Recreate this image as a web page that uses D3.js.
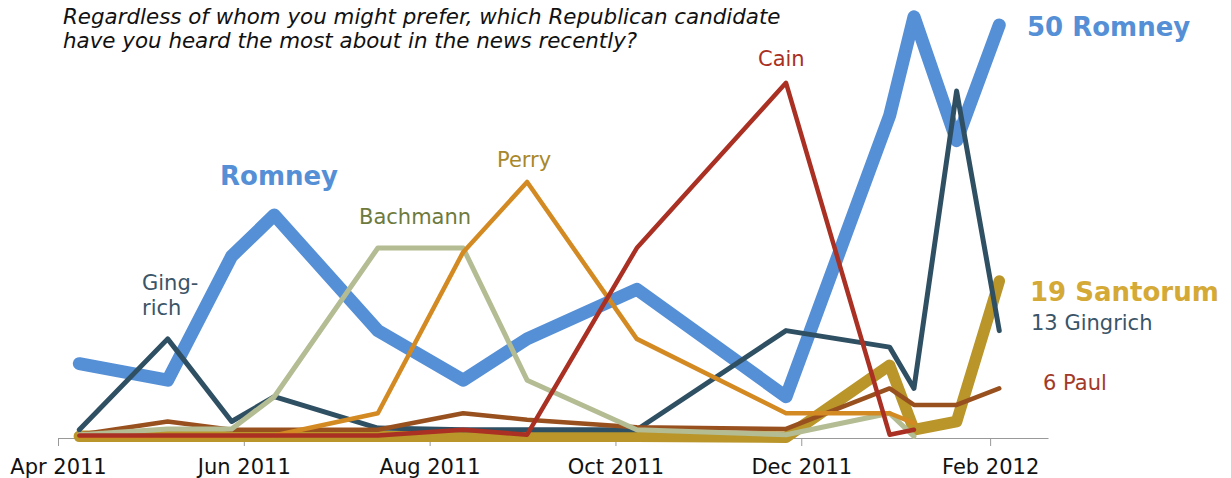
<!DOCTYPE html>
<html>
<head>
<meta charset="utf-8">
<script src="https://cdnjs.cloudflare.com/ajax/libs/d3/7.8.5/d3.min.js"></script>
<style>
body { margin: 0; background: #fff; }
svg text { font-family: "DejaVu Sans", Verdana, sans-serif; }
</style>
</head>
<body>
<div id="chart"></div>
<script>
// survey dates (Pew news interest index) and % naming each candidate
var surveyDates = ["2011-04-08", "2011-05-07", "2011-05-28", "2011-06-11", "2011-07-15", "2011-08-12",
  "2011-09-02", "2011-10-08", "2011-11-26", "2011-12-30", "2012-01-07", "2012-01-21", "2012-02-04"];

var romney    = [9, 7, 22, 27, 13, 7, 12, 18, 5, 39, 51, 36, 50];
var gingrich  = [1, 12, 2, 5, 1.2, 1, 1, 1, 13, 11, 6, 42, 13];
var cain      = [0.3, 0.3, 0.3, 0.3, 0.3, 1, 0.4, 23, 43, 0.4, 1, null, null];
var perry     = [0.2, 0.2, 0.2, 0.3, 3, 22.5, 31, 12, 3, 3, 1.8, null, null];
var bachmann  = [0.4, 1.1, 1.1, 5, 23, 23, 7, 1, 0.4, 3, 0.2, null, null];
var paul      = [0.4, 2, 1, 1, 1, 3, 2.2, 1.3, 1.1, 6, 4, 4, 6];
var santorum  = [0.2, 0.2, 0.2, 0.2, 0.2, 0.2, 0.2, 0.2, 0.1, 8.8, 1, 2, 19];

var tickDates = ["2011-04-01", "2011-06-01", "2011-08-01", "2011-10-01", "2011-12-01", "2012-02-01"];

var width = 1231, height = 478;
var parse = d3.timeParse("%Y-%m-%d");

var svg = d3.select("#chart").append("svg")
  .attr("width", width)
  .attr("height", height);

var x = d3.scaleTime()
  .domain([parse("2011-04-01"), parse("2012-02-20")])
  .range([58, 1048]);

var y = d3.scaleLinear()
  .domain([0, 50])
  .range([438, 25]);

// title
var title = svg.append("text")
  .attr("x", 63)
  .attr("y", 24)
  .attr("font-size", "21.4px")
  .attr("font-style", "italic")
  .attr("fill", "#111");
title.append("tspan").attr("x", 63).text("Regardless of whom you might prefer, which Republican candidate");
title.append("tspan").attr("x", 63).attr("dy", 24).text("have you heard the most about in the news recently?");

// axis
var xAxis = d3.axisBottom(x)
  .tickValues(tickDates.map(parse))
  .tickFormat(d3.timeFormat("%b %Y"))
  .tickSize(8)
  .tickSizeOuter(0)
  .tickPadding(13);

var axisG = svg.append("g")
  .attr("transform", "translate(0," + y(0) + ")")
  .call(xAxis);
axisG.select(".domain").attr("stroke", "#999");
axisG.selectAll(".tick line").attr("stroke", "#999");
axisG.selectAll(".tick text")
  .attr("font-size", "21px")
  .attr("font-family", "DejaVu Sans, Verdana, sans-serif")
  .attr("fill", "#111");

// series, drawn bottom to top
var series = [
  {name: "Santorum", values: santorum, color: "#b9952a", w: 11.5},
  {name: "Romney", values: romney, color: "#558fd6", w: 13},
  {name: "Gingrich", values: gingrich, color: "#2f4f63", w: 5},
  {name: "Paul", values: paul, color: "#98501f", w: 4.5},
  {name: "Bachmann", values: bachmann, color: "#b3bc92", w: 5},
  {name: "Perry", values: perry, color: "#d48a22", w: 4.5},
  {name: "Cain", values: cain, color: "#a93022", w: 4.5}
];

var line = d3.line()
  .defined(function(d) { return d.v != null; })
  .x(function(d) { return x(d.date); })
  .y(function(d) { return y(d.v); });

svg.append("g").selectAll("path")
  .data(series)
  .enter()
  .append("path")
  .attr("d", function(s) {
    return line(s.values.map(function(v, i) { return {date: parse(surveyDates[i]), v: v}; }));
  })
  .attr("fill", "none")
  .attr("stroke", function(s) { return s.color; })
  .attr("stroke-width", function(s) { return s.w; })
  .attr("stroke-linejoin", "round")
  .attr("stroke-linecap", "round");

// annotations
var labels = [
  {text: "Romney", x: 220, y: 185, size: 26, bold: true, color: "#558fd6"},
  {text: "Ging-", x: 142, y: 290, size: 21, color: "#3a5468"},
  {text: "rich", x: 142, y: 315, size: 21, color: "#3a5468"},
  {text: "Bachmann", x: 359, y: 224, size: 21, color: "#6e7a3c"},
  {text: "Perry", x: 497, y: 167, size: 21, color: "#a8882a"},
  {text: "Cain", x: 758, y: 66, size: 21, color: "#a93022"},
  {text: "50 Romney", x: 1027, y: 36, size: 26, bold: true, color: "#558fd6"},
  {text: "19 Santorum", x: 1030, y: 301, size: 26, bold: true, color: "#d4a935"},
  {text: "13 Gingrich", x: 1031, y: 330, size: 21, color: "#3a5468"},
  {text: "6 Paul", x: 1043, y: 390, size: 21, color: "#a33a28"}
];

svg.append("g").selectAll("text")
  .data(labels)
  .enter()
  .append("text")
  .attr("x", function(d) { return d.x; })
  .attr("y", function(d) { return d.y; })
  .attr("font-size", function(d) { return d.size + "px"; })
  .attr("font-weight", function(d) { return d.bold ? "bold" : "normal"; })
  .attr("fill", function(d) { return d.color; })
  .text(function(d) { return d.text; });
</script>
</body>
</html>
